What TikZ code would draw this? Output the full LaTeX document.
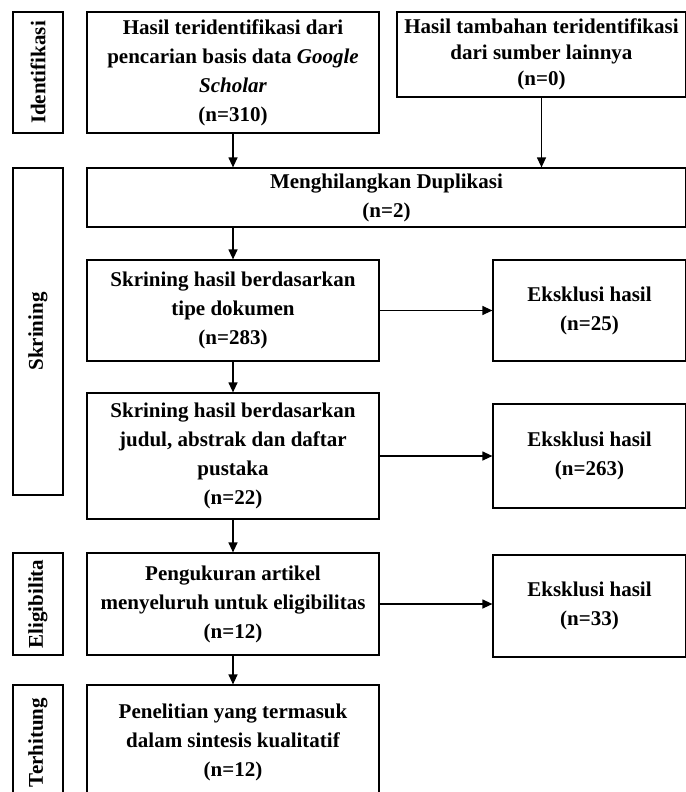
\documentclass[tikz,border=0pt]{standalone}
\usepackage{fontspec}
\setmainfont{Liberation Serif}
\usetikzlibrary{arrows.meta}

\begin{document}
\begin{tikzpicture}[x=1pt, y=-1pt, font=\fontsize{21}{29}\selectfont\bfseries,
    kotak/.style={draw, line width=1.2pt, align=center, inner sep=0pt},
    tahap/.style={kotak, minimum height=50pt, rotate=90},
    panah/.style={-{Triangle[width=9pt,length=10pt]}, line width=1.2pt}]
  \useasboundingbox (0,0) rectangle (685,792);
  % label tahap di kiri
  \node[tahap, minimum width=121pt] (idf) at (38,72.5) {Identifikasi};
  \node[tahap, minimum width=327pt] (skr) at (38,331.5) {Skrining};
  \node[tahap, minimum width=102pt] (elg) at (38,604) {Eligibilita};
  \node[tahap, minimum width=115pt] (thg) at (38,742.5) {Terhitung};
  % alur utama
  \node[kotak, minimum width=292pt, minimum height=121pt] (cari) at (233,72.5)
    {Hasil teridentifikasi dari\\ pencarian basis data \textit{Google}\\ \textit{Scholar}\\ (n=310)};
  \node[kotak, minimum width=289pt, minimum height=85pt, font=\fontsize{21}{26}\selectfont\bfseries] (lain) at (541.5,54.5)
    {Hasil tambahan teridentifikasi\\ dari sumber lainnya\\ (n=0)};
  \node[kotak, minimum width=599pt, minimum height=59pt] (dup) at (386.5,197.5)
    {Menghilangkan Duplikasi\\ (n=2)};
  \node[kotak, minimum width=292pt, minimum height=101pt] (tipe) at (233,310.5)
    {Skrining hasil berdasarkan\\ tipe dokumen\\ (n=283)};
  \node[kotak, minimum width=292pt, minimum height=126pt] (judul) at (233,456)
    {Skrining hasil berdasarkan\\ judul, abstrak dan daftar\\ pustaka\\ (n=22)};
  \node[kotak, minimum width=292pt, minimum height=102pt] (ukur) at (233,604)
    {Pengukuran artikel\\ menyeluruh untuk eligibilitas\\ (n=12)};
  \node[kotak, minimum width=292pt, minimum height=115pt] (sintesis) at (233,742.5)
    {Penelitian yang termasuk\\ dalam sintesis kualitatif\\ (n=12)};
  % eksklusi
  \foreach \nama/\y/\h/\n in {eks1/310.5/101/25, eks2/456/104/263, eks3/606/102/33}{
    \node[kotak, minimum width=193pt, minimum height=\h pt] (\nama) at (589.5,\y)
      {Eksklusi hasil\\ (n=\n)};
  }
  \draw[panah] (cari) -- (cari |- dup.north);
  \draw[panah] (lain) -- (lain |- dup.north);
  \draw[panah] (dup.south -| tipe) -- (tipe);
  \draw[panah] (tipe) -- (judul);
  \draw[panah] (judul) -- (ukur);
  \draw[panah] (ukur) -- (sintesis);
  \foreach \a/\b in {tipe/eks1, judul/eks2, ukur/eks3}{
    \draw[panah] (\a.east) -- (\a.east -| \b.west);
  }
\end{tikzpicture}
\end{document}
